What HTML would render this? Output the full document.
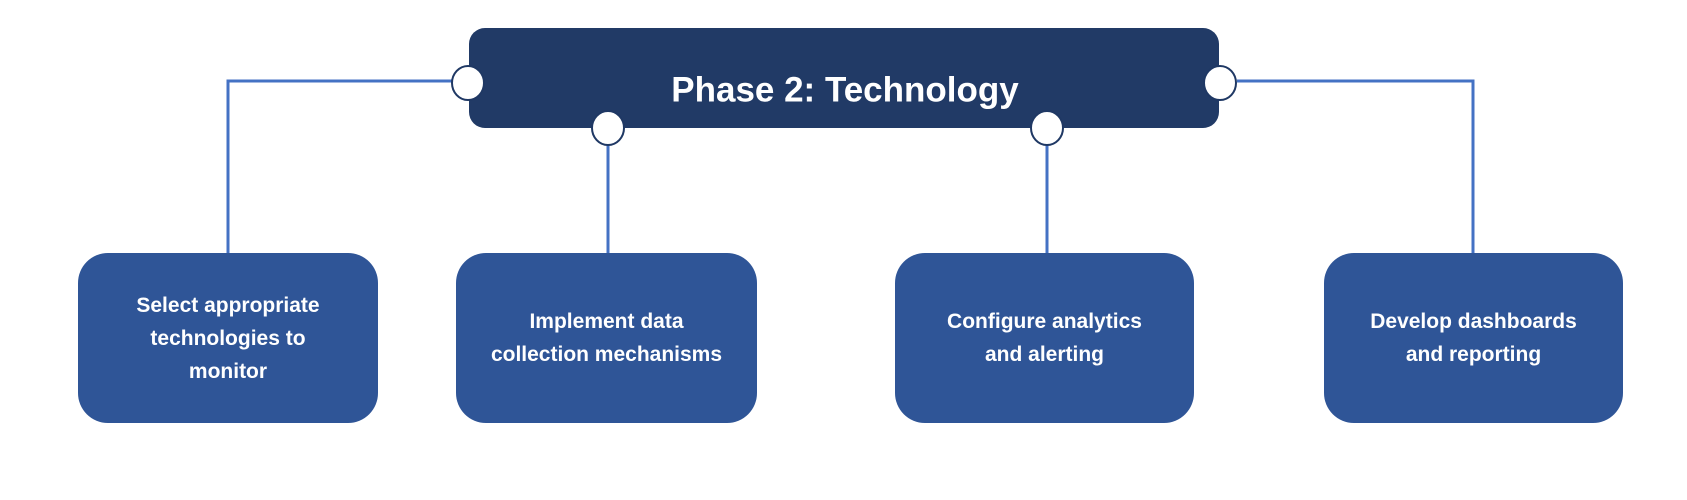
<!DOCTYPE html>
<html><head><meta charset="utf-8"><style>
body{margin:0;background:#fff;}
.wrap{position:relative;width:1687px;height:500px;overflow:hidden;font-family:"Liberation Sans",sans-serif;}
.box{position:absolute;background:#2F5597;border-radius:30px;color:#fff;font-weight:bold;font-size:21px;line-height:33px;display:flex;align-items:center;justify-content:center;text-align:center;}
</style></head><body><div class="wrap">
<svg width="1687" height="500" style="position:absolute;left:0;top:0">
<rect x="469" y="28" width="750" height="100" rx="16" fill="#213A66"/>
<g fill="none" stroke="#4472C4" stroke-width="3">
<polyline points="452,81 228,81 228,254"/>
<line x1="608" y1="145" x2="608" y2="254"/>
<line x1="1047" y1="145" x2="1047" y2="254"/>
<polyline points="1237,81 1473,81 1473,254"/>
</g>
<g fill="#fff" stroke="#1F3864" stroke-width="2">
<ellipse cx="468" cy="83" rx="16" ry="17"/>
<ellipse cx="608" cy="128" rx="16" ry="17"/>
<ellipse cx="1047" cy="128" rx="16" ry="17"/>
<ellipse cx="1220" cy="83" rx="16" ry="17"/>
</g>
<text x="845" y="92" fill="#fff" font-family="Liberation Sans, sans-serif" font-weight="bold" font-size="35" text-anchor="middle" dominant-baseline="middle">Phase 2: Technology</text>
</svg>
<div class="box" style="left:78px;top:253px;width:300px;height:170px">Select appropriate<br>technologies to<br>monitor</div>
<div class="box" style="left:456px;top:253px;width:301px;height:170px">Implement data<br>collection mechanisms</div>
<div class="box" style="left:895px;top:253px;width:299px;height:170px">Configure analytics<br>and alerting</div>
<div class="box" style="left:1324px;top:253px;width:299px;height:170px">Develop dashboards<br>and reporting</div>
</div></body></html>
